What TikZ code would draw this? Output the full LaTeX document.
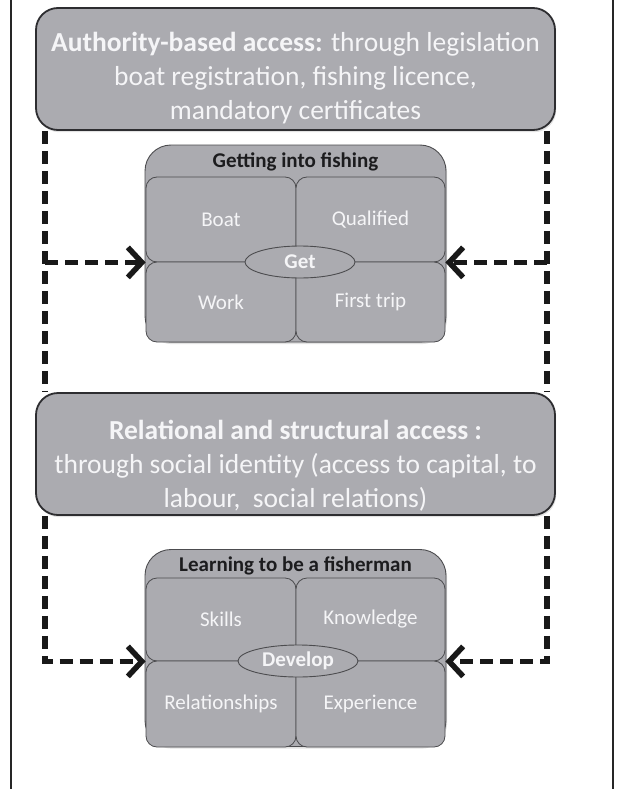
\documentclass[tikz,border=0pt]{standalone}
\usepackage{fontspec}
\setmainfont{Carlito}
\usetikzlibrary{arrows.meta,shapes.geometric,shadows}
\definecolor{boxgray}{RGB}{171,171,176}
\definecolor{edgedark}{RGB}{45,45,48}
\definecolor{labelwhite}{RGB}{245,245,247}
\definecolor{titledark}{RGB}{28,28,30}

\begin{document}
\begin{tikzpicture}[x=1pt,y=-1pt,
  softshadow/.style={drop shadow={opacity=0.22, shadow xshift=1.2pt, shadow yshift=-2.2pt}},
  accessbox/.style={draw=edgedark, line width=1.8pt, fill=boxgray, rounded corners=22pt,
    minimum width=519pt, minimum height=122pt, inner sep=0pt, softshadow},
  accesstext/.style={text=labelwhite, align=center, inner sep=0pt,
    font=\fontsize{27.5}{34}\selectfont},
  stagebox/.style={draw=edgedark!85, line width=0.9pt, fill=boxgray, rounded corners=26pt,
    minimum width=301pt, minimum height=197pt, inner sep=0pt, softshadow},
  stagetitle/.style={text=titledark, inner sep=0pt, font=\bfseries\fontsize{21}{25}\selectfont},
  quadbox/.style={draw=edgedark!85, line width=0.8pt, fill=boxgray, rounded corners=11pt,
    inner sep=0pt, text=labelwhite, font=\fontsize{21}{25}\selectfont},
  hubellipse/.style={ellipse, draw=edgedark!85, line width=0.9pt, fill=boxgray, inner sep=0pt,
    minimum height=32pt, text=labelwhite, font=\bfseries\fontsize{21}{25}\selectfont},
  dashline/.style={draw=black!90, line width=5.5pt, dash pattern=on 13pt off 7pt},
  barb/.style={-{Straight Barb[length=14pt,width=30pt]}}
]
\useasboundingbox (0,0) rectangle (626,789);
\fill[white] (0,0) rectangle (626,789);

% side rules of the frame
\draw[line width=1.6pt, black!85] (11,0) -- (11,789);
\draw[line width=1.6pt, black!85] (613,0) -- (613,789);

% columns carrying the dashed links
\coordinate (lcol) at (45,0);
\coordinate (rcol) at (547,0);

% first access layer
\node[accessbox] (auth) at (295.5,69) {};
\node[accesstext] (authtext) at (295.5,78)
  {\textbf{Authority-based access:} through legislation\\
   boat registration, fishing licence,\\
   mandatory certificates};

% getting into fishing
\node[stagebox] (getbox) at (295.5,243.5) {};
\node[stagetitle] (gettitle) at (295.5,162) {Getting into fishing};
\node[quadbox, minimum width=150pt, minimum height=85pt] (boat) at (221,219.5) {Boat};
\node[quadbox, minimum width=149pt, minimum height=85pt] (qual) at (370.5,219.5) {Qualified};
\node[quadbox, minimum width=150pt, minimum height=80pt] (work) at (221,302) {Work};
\node[quadbox, minimum width=149pt, minimum height=80pt] (trip) at (370.5,302) {First trip};
\node[hubellipse, minimum width=110pt] (get) at (300,262) {Get};

% second access layer
\node[accessbox] (rel) at (295.5,454) {};
\node[accesstext] (reltext) at (295.5,466)
  {\textbf{Relational and structural access :}\\
   through social identity (access to capital, to\\
   labour,\ \ social relations)};

% learning to be a fisherman
\node[stagebox] (devbox) at (295.5,648) {};
\node[stagetitle] (devtitle) at (295.5,566) {Learning to be a fisherman};
\node[quadbox, minimum width=150pt, minimum height=83pt] (skills) at (221,619.5) {Skills};
\node[quadbox, minimum width=149pt, minimum height=83pt] (know) at (370.5,619.5) {Knowledge};
\node[quadbox, minimum width=150pt, minimum height=86pt] (rels) at (221,704) {Relationships};
\node[quadbox, minimum width=149pt, minimum height=86pt] (exper) at (370.5,704) {Experience};
\node[hubellipse, minimum width=120pt] (develop) at (298,661) {Develop};

% dashed links between the layers
\draw[dashline] (auth.south -| lcol) -- (rel.north -| lcol);
\draw[dashline] (auth.south -| rcol) -- (rel.north -| rcol);
\draw[dashline, barb] (lcol |- boat.south west) -- (boat.south west);
\draw[dashline, barb] (rcol |- qual.south east) -- (qual.south east);
\draw[dashline, barb] (rel.south -| lcol) |- (skills.south west);
\draw[dashline, barb] (rel.south -| rcol) |- (know.south east);
\end{tikzpicture}
\end{document}
